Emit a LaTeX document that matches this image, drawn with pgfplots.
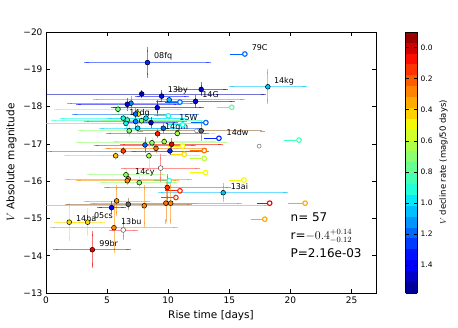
\documentclass[border=0pt]{standalone}
\usepackage{fontspec}
\setmainfont{DejaVu Sans}
\usepackage{pgfplots}
\usepackage{pgfplotstable}
\pgfplotsset{compat=1.18}

% reversed matplotlib jet
\pgfplotsset{colormap={jetr}{rgb255(0pt)=(128,0,0) rgb255(9pt)=(242,0,0) rgb255(11pt)=(255,20,0)
  rgb255(34pt)=(255,235,0) rgb255(36pt)=(240,255,8) rgb255(62pt)=(20,255,230)
  rgb255(66pt)=(0,220,255) rgb255(87pt)=(0,0,255) rgb255(89pt)=(0,0,255) rgb255(100pt)=(0,0,128)}}

% filled points: rise time, abs mag, errors, decline rate
\pgfplotstableread{
x     y       xe    ye    v
8.30  -19.18  5.0   0.34  1.30
7.83  -18.34  10.0  0.03  1.52
9.46  -18.28  2.0   0.10  1.35
12.70 -18.46  2.0   0.12  1.48
12.24 -18.14  3.0   0.10  1.45
10.08 -18.18  6.0   0.05  1.05
9.10  -17.97  3.6   0.15  1.45
6.95  -18.09  5.0   0.12  1.15
6.65  -18.06  4.0   0.10  1.40
5.89  -17.93  5.0   0.08  0.75
18.15 -18.53  3.0   0.40  1.05
7.55  -17.80  2.0   0.05  0.50
7.33  -17.80  5.0   0.10  1.20
6.32  -17.69  5.0   0.05  0.95
6.65  -17.64  6.0   0.05  0.85
7.33  -17.60  4.0   0.08  1.15
7.82  -17.62  3.0   0.05  0.70
8.18  -17.69  3.0   0.05  1.00
8.59  -17.57  2.0   0.08  1.45
6.54  -17.55  6.5   0.05  0.95
9.60  -17.42  3.0   0.08  1.20
6.81  -17.35  4.0   0.10  0.70
7.50  -17.42  3.0   0.05  1.00
10.74 -17.28  3.0   0.05  0.65
9.13  -17.27  4.0   0.05  0.10
10.28 -16.99  4.0   0.10  0.05
8.67  -17.03  6.0   0.05  0.70
9.67  -17.06  4.0   0.05  0.65
8.10  -16.97  4.0   0.15  1.20
9.00  -16.88  4.0   0.05  0.25
10.14 -16.81  3.0   0.05  1.30
6.32  -16.81  6.0   0.05  0.15
5.70  -16.68  4.0   0.05  0.40
8.42  -16.68  4.0   0.30  0.65
6.54  -16.17  3.0   0.08  0.70
6.73  -16.06  5.0   0.08  0.30
6.65  -16.01  4.0   0.05  0.30
7.63  -15.96  3.0   0.10  0.70
9.92  -15.83  5.0   0.30  0.15
14.50 -15.69  5.1   0.18  1.05
5.78  -15.47  2.5   0.35  0.30
8.04  -15.34  10.0  0.50  0.30
9.81  -15.41  6.0   0.50  0.25
10.20 -15.41  2.0   0.50  0.30
5.37  -15.29  1.0   0.10  1.35
1.90  -14.90  1.0   0.45  0.45
3.41  -14.90  1.2   0.30  0.45
5.56  -14.75  5.0   0.60  0.30
3.79  -14.16  3.0   0.43  0.05
}\filled

% open points: upper limits on rise time
\pgfplotstableread{
x     y       xm    v
16.27 -19.41  1.05  1.20
15.20 -17.98  1.0   0.80
10.96 -18.12  1.0   1.20
10.00 -17.75  1.0   0.95
11.18 -17.51  1.0   0.95
13.08 -17.57  1.0   1.20
11.18 -16.94  1.0   0.50
12.95 -16.82  1.0   0.25
11.31 -16.72  1.0   0.45
12.95 -16.61  1.0   0.60
13.06 -16.23  1.05  0.50
10.08 -16.01  1.0   0.90
10.96 -15.74  1.0   0.10
10.63 -15.56  1.0   0.15
20.70 -17.10  1.0   0.85
14.15 -17.15  1.05  1.30
16.20 -16.03  1.05  0.50
18.30 -15.41  0.8   0.05
21.20 -15.41  1.2   0.35
17.90 -14.98  0.9   0.35
}\opened

\begin{document}
\begin{tikzpicture}
\path (-46pt,-34pt) rectangle (412pt,293pt);
\begin{axis}[
  at={(0,0)}, anchor=south west,
  scale only axis, width=330pt, height=261pt,
  xmin=0, xmax=27, ymin=-20, ymax=-13, y dir=reverse,
  xtick={0,5,10,15,20,25}, xticklabels={0,5,10,15,20,25},
  ytick={-20,-19,-18,-17,-16,-15,-14,-13},
  yticklabels={−20,−19,−18,−17,−16,−15,−14,−13},
  tick label style={font=\fontsize{9}{10}\selectfont},
  major tick length=4pt, tick style={black, line width=0.5pt},
  axis line style={line width=0.8pt},
  xlabel={Rise time [days]}, ylabel={$V$ Absolute magnitude},
  label style={font=\fontsize{10.5}{12}\selectfont},
  colormap name=jetr,
  point meta min=-0.1, point meta max=1.58,
  colorbar sampled,
  colorbar style={
    at={(parent axis.north east)}, anchor=north west, xshift=21pt,
    width=11.6pt, y dir=reverse, samples=25,
    ytick={0,0.2,0.4,0.6,0.8,1.0,1.2,1.4},
    yticklabels={0.0,0.2,0.4,0.6,0.8,1.0,1.2,1.4},
    yticklabel style={font=\fontsize{7.5}{8}\selectfont},
    ylabel={$V$ decline rate (mag/50 days)},
    ylabel style={font=\fontsize{8.5}{10}\selectfont},
    major tick length=3pt,
  },
]
% error bars, one plot per row so that each takes its point's colour
\pgfplotsinvokeforeach{0,...,19}{%
  \pgfplotstablegetelem{#1}{x}\of\opened \let\px\pgfplotsretval
  \pgfplotstablegetelem{#1}{y}\of\opened \let\py\pgfplotsretval
  \pgfplotstablegetelem{#1}{xm}\of\opened \let\pxe\pgfplotsretval
  \pgfplotstablegetelem{#1}{v}\of\opened \let\pv\pgfplotsretval
  \pgfmathsetmacro\cm{(\pv+0.1)/1.68*1000}
  \edef\temp{\noexpand\addplot[only marks, mark=none, color of colormap={\cm},
    error bars/.cd, x dir=minus, x explicit,
    error bar style={line width=0.9pt},
    error mark options={mark size=2.5pt, line width=0.9pt}]
    coordinates {(\px,\py) -= (\pxe,0)};}
  \temp
}
\pgfplotsinvokeforeach{0,...,48}{%
  \pgfplotstablegetelem{#1}{x}\of\filled \let\px\pgfplotsretval
  \pgfplotstablegetelem{#1}{y}\of\filled \let\py\pgfplotsretval
  \pgfplotstablegetelem{#1}{xe}\of\filled \let\pxe\pgfplotsretval
  \pgfplotstablegetelem{#1}{ye}\of\filled \let\pye\pgfplotsretval
  \pgfplotstablegetelem{#1}{v}\of\filled \let\pv\pgfplotsretval
  \pgfmathsetmacro\cm{(\pv+0.1)/1.68*1000}
  \edef\temp{\noexpand\addplot[only marks, mark=none, color of colormap={\cm},
    error bars/.cd, x dir=both, x explicit, y dir=both, y explicit,
    error bar style={line width=0.8pt, opacity=0.55},
    error mark options={mark size=2.5pt, line width=0.8pt, opacity=0.55}]
    coordinates {(\px,\py) +- (\pxe,\pye)};}
  \temp
}
% grey / white points without decline rate
\addplot[only marks, mark=*, mark size=2.4pt, mark options={draw=black, fill=gray!80!black, line width=0.5pt},
  error bars/.cd, x dir=both, x explicit, y dir=both, y explicit,
  error bar style={color=brown!60!gray, opacity=0.7, line width=0.8pt},
  error mark options={color=brown!60!gray, mark size=2.5pt},
] coordinates {(12.70,-17.35) +- (5,0.2) (6.73,-15.38) +- (5,0.1)};
\addplot[only marks, mark=*, mark size=2.4pt, mark options={draw=black!70, fill=white, line width=0.5pt},
  error bars/.cd, x dir=both, x explicit, y dir=both, y explicit,
  error bar style={color=red!60, opacity=0.7, line width=0.8pt},
  error mark options={color=red!60, mark size=2.5pt},
] coordinates {(6.32,-14.69) +- (1,0.2) (9.38,-16.35) +- (3,0.3)};
% upper limits
\addplot[scatter, only marks, mark=*, mark size=2.3pt, mark options={line width=1.1pt},
  scatter/use mapped color={draw=mapped color, fill=white},
  point meta=explicit,
] table[x=x, y=y, meta=v] {\opened};
% grey limits without error
\addplot[only marks, mark=*, mark size=2pt, mark options={draw=gray, fill=white, line width=0.6pt}]
  coordinates {(12.32,-17.35) (17.44,-16.94)};
% measured points
\addplot[scatter, only marks, mark=*, mark size=2.4pt, mark options={line width=0.5pt},
  scatter/use mapped color={draw=black, fill=mapped color},
  point meta=explicit,
] table[x=x, y=y, meta=v] {\filled};

\begin{scope}[every node/.style={font=\fontsize{8}{9}\selectfont, anchor=west, inner sep=0pt}]
\node at (axis cs:8.83,-19.34) {08fq};
\node at (axis cs:16.82,-19.58) {79C};
\node at (axis cs:9.95,-18.45) {13by};
\node at (axis cs:12.78,-18.31) {14G};
\node at (axis cs:18.64,-18.69) {14kg};
\node at (axis cs:6.81,-17.82) {14dg};
\node at (axis cs:10.9,-17.69) {15W};
\node at (axis cs:9.73,-17.43) {14gm};
\node at (axis cs:14.77,-17.31) {14dw};
\node at (axis cs:7.28,-16.24) {14cy};
\node at (axis cs:15.1,-15.85) {13ai};
\node at (axis cs:2.45,-15.0) {14ha};
\node at (axis cs:3.92,-15.07) {05cs};
\node at (axis cs:6.13,-14.91) {13bu};
\node at (axis cs:4.36,-14.33) {99br};
\end{scope}
\begin{scope}[every node/.style={font=\fontsize{12}{14}\selectfont, anchor=west, inner sep=0pt}]
\node at (axis cs:20,-15.04) {n= 57};
\node at (axis cs:20,-14.52) {r=$-0.4^{+0.14}_{-0.12}$};
\node at (axis cs:20,-14.07) {P=2.16e-03};
\end{scope}
\end{axis}
\end{tikzpicture}
\end{document}
